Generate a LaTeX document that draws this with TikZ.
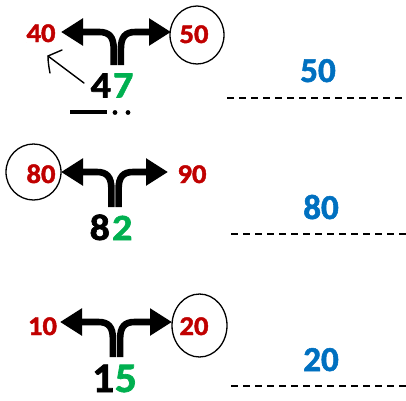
\documentclass[tikz,border=0pt]{standalone}
\usepackage{fontspec}
\setmainfont{Carlito}
\newfontfamily\carb{Carlito}[UprightFont={* Bold}, FakeBold=1.6]
\usetikzlibrary{arrows.meta,shapes.geometric}
\definecolor{nred}{HTML}{C00000}
\definecolor{ngreen}{HTML}{00B050}
\definecolor{nblue}{HTML}{0070C0}
\tikzset{
  rednum/.style={anchor=base, inner sep=0pt, xscale=1.06, text=nred, font=\carb\fontsize{27}{27}\selectfont},
  bignum/.style={anchor=base, inner sep=0pt, xscale=1.08, font=\carb\fontsize{37}{37}\selectfont},
  hugenum/.style={anchor=base, inner sep=0pt, xscale=1.04, font=\carb\fontsize{42}{42}\selectfont},
  bluenum/.style={anchor=base, inner sep=0pt, text=nblue, font=\carb\fontsize{35}{35}\selectfont},
  ring/.style={draw, ellipse, line width=1.3pt, inner sep=0pt},
  guide/.style={draw, dash pattern=on 7pt off 5pt, line width=1.3pt},
  fork/.style={draw, line width=6.6pt, -{Triangle[length=22pt,width=26pt]}},
  hand/.style={draw, line width=1.4pt, line join=round, line cap=round},
}
\newcommand{\forkpair}[5]{% #1 centre x, #2 stem bottom y, #3 arrow y, #4 left tip x, #5 right tip x
  \coordinate (L0) at ({#1-3.6},#2);
  \coordinate (R0) at ({#1+3.6},#2);
  \coordinate (LT) at (#4,#3);
  \coordinate (RT) at (#5,#3);
  \path[fork] (L0) -- ({#1-3.6},{#3+17}) .. controls ({#1-3.6},{#3+5}) and ({#1-8},#3) .. ({#1-18},#3) -- (LT);
  \path[fork] (R0) -- ({#1+3.6},{#3+17}) .. controls ({#1+3.6},{#3+5}) and ({#1+8},#3) .. ({#1+18},#3) -- (RT);
}
\begin{document}
\begin{tikzpicture}[x=1pt,y=-1pt]
\useasboundingbox (0,0) rectangle (406,400);
% ---------- group 1 ----------
\node[rednum] (g1l) at (41,42) {40};
\node[rednum] (g1r) at (194,43) {50};
\node[ring, minimum width=54pt, minimum height=58pt] (g1c) at (197,35) {};
\forkpair{117.3}{65}{32}{61}{171}
\node[bignum] (g1n) at (112,97.5) {4\kern2pt\textcolor{ngreen}{7}};
\coordinate (u1a) at (70,112);
\coordinate (u1b) at (107,112);
\draw[line width=4pt] (u1a) -- (u1b);
\fill (115,112.5) circle (2.4pt);
\fill (128,112.5) circle (2.4pt);
\coordinate (h0) at (84,83);
\coordinate (h1) at (48,56);
\coordinate (h2) at (62,50);
\coordinate (h3) at (50,73);
\path[hand] (h0) -- (h1);
\path[hand] (h2) -- (h1) .. controls (48,62) and (49,68) .. (h3);
\node[bluenum] (b1) at (318,82) {50};
\coordinate (d1a) at (227,98);
\coordinate (d1b) at (406,98);
\path[guide] (d1a) -- (d1b);
% ---------- group 2 ----------
\node[rednum] (g2l) at (41,183) {80};
\node[rednum] (g2r) at (192,183) {90};
\node[ring, minimum width=55pt, minimum height=56pt] (g2c) at (33.5,172) {};
\forkpair{115}{207}{172}{61}{168}
\node[bignum] (g2n) at (111,240) {8\kern2pt\textcolor{ngreen}{2}};
\node[bluenum] (b2) at (321,219) {80};
\coordinate (d2a) at (231,234);
\coordinate (d2b) at (406,234);
\path[guide] (d2a) -- (d2b);
% ---------- group 3 ----------
\node[rednum] (g3l) at (42.5,335) {10};
\node[rednum] (g3r) at (194,335) {20};
\node[ring, minimum width=55pt, minimum height=63pt] (g3c) at (199.5,325.5) {};
\forkpair{116.5}{357}{322}{60}{172}
\node[hugenum] (g3n) at (114.5,392) {1\kern0.5pt\textcolor{ngreen}{5}};
\node[bluenum] (b3) at (321,371) {20};
\coordinate (d3a) at (231,386);
\coordinate (d3b) at (406,386);
\path[guide] (d3a) -- (d3b);
\end{tikzpicture}
\end{document}
